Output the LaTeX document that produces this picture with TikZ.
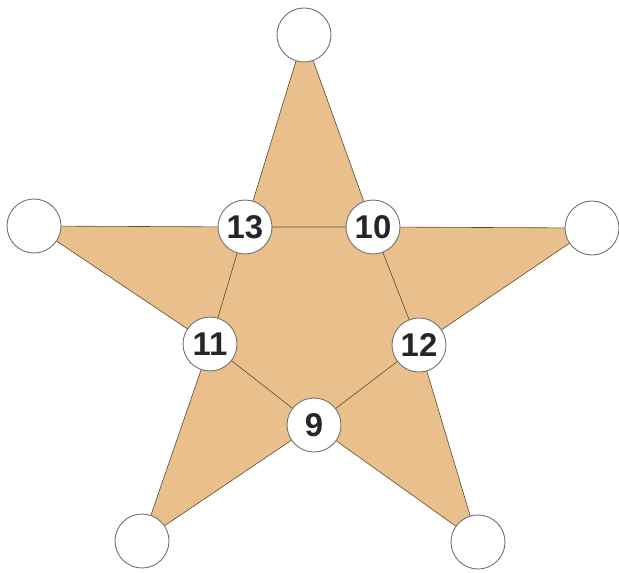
\documentclass[tikz,border=0pt]{standalone}
\usepackage{fontspec}
\setmainfont{Liberation Sans}
\usepackage{xcolor}
\usepackage{tikz}
\usetikzlibrary{backgrounds}
\definecolor{startan}{RGB}{233,192,140}
\definecolor{starline}{RGB}{95,72,45}

\begin{document}
\begin{tikzpicture}[x=1bp, y=-1bp,
  spot/.style={draw=black!55, line width=0.9bp, fill=white, circle,
               minimum size=54bp, inner sep=0pt, text=black!85,
               font=\fontsize{33}{33}\selectfont\bfseries},
  edge/.style={draw=starline, line width=0.6bp}]
\useasboundingbox (0,0) rectangle (619,573);
% outer tips
\node[spot] (tipT)  at (304,35)  {};
\node[spot] (tipR)  at (592,228) {};
\node[spot] (tipBR) at (478,542) {};
\node[spot] (tipBL) at (142,541) {};
\node[spot] (tipL)  at (34,226)  {};
% inner points
\node[spot] (n13) at (245,227) {13};
\node[spot] (n10) at (373,227) {10};
\node[spot] (n12) at (419,345) {12};
\node[spot] (n9)  at (314,425) {9};
\node[spot] (n11) at (210,344) {11};
\begin{scope}[on background layer]
\filldraw[edge, fill=startan] (tipT.center) -- (n10.center) -- (tipR.center)
  -- (n12.center) -- (tipBR.center) -- (n9.center) -- (tipBL.center)
  -- (n11.center) -- (tipL.center) -- (n13.center) -- cycle;
\draw[edge] (n13.center) -- (n10.center) -- (n12.center) -- (n9.center)
  -- (n11.center) -- cycle;
\end{scope}
\end{tikzpicture}
\end{document}
